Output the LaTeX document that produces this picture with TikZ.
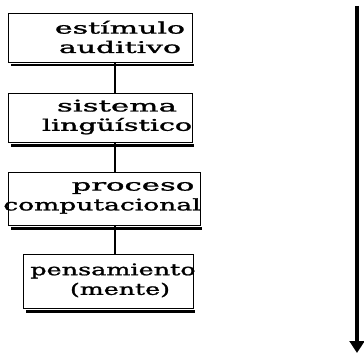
\documentclass[tikz,border=0pt]{standalone}
\usepackage{fontspec}
\setmainfont[FakeBold=1.2]{DejaVu Serif}
\usepackage{graphicx}
\usetikzlibrary{arrows.meta}
\newcommand\wl[2]{\resizebox{#1pt}{\height}{#2}}
\begin{document}
\begin{tikzpicture}[x=0.75pt,y=-0.75pt,
  boxshape/.style={draw=black, line width=0.9pt, fill=white, inner sep=0pt, anchor=north west},
  lbl/.style={font=\fontsize{12}{14.5}\selectfont, align=center, inner sep=0pt},
  conn/.style={draw=black, line width=0.8pt},
  bigarrow/.style={draw=black, line width=3pt, -{Triangle[length=9pt,width=11pt]}}]
\useasboundingbox (0,0) rectangle (364,360);
% shadows
\fill[black] (11,64) rectangle (194,66.5);
\fill[black] (11,144) rectangle (194,146.5);
\fill[black] (11,227) rectangle (202,229.5);
\fill[black] (26,310) rectangle (195,312.5);
% boxes
\node[boxshape, minimum width=184*0.75pt, minimum height=49*0.75pt] (b1) at (8,13) {};
\node[boxshape, minimum width=184*0.75pt, minimum height=49*0.75pt] (b2) at (8,93) {};
\node[boxshape, minimum width=192*0.75pt, minimum height=53*0.75pt] (b3) at (8,172) {};
\node[boxshape, minimum width=170*0.75pt, minimum height=54*0.75pt] (b4) at (23,254) {};
% labels
\node[lbl] (t1) at (120,37) {\wl{97.5}{estímulo}\\\wl{91.5}{auditivo}};
\node[lbl] (t2) at (117,117) {\wl{90}{sistema}\\\wl{112.5}{lingüístico}};
\node[lbl] (t3a) at (133,188) {\wl{92}{proceso}};
\node[lbl] (t3b) at (102,206) {\wl{148}{computacional}};
\node[lbl] (t4a) at (113,271) {\wl{124}{pensamiento}};
\node[lbl] (t4b) at (120,290) {\wl{75}{(mente)}};
% connectors
\coordinate (c1) at (115,0);
\draw[conn] (b1.south -| c1) -- (b2.north -| c1);
\draw[conn] (b2.south -| c1) -- (b3.north -| c1);
\draw[conn] (b3.south -| c1) -- (b4.north -| c1);
% big arrow
\coordinate (atop) at (357,6);
\coordinate (abot) at (357,353);
\draw[bigarrow] (atop) -- (abot);
\end{tikzpicture}
\end{document}
